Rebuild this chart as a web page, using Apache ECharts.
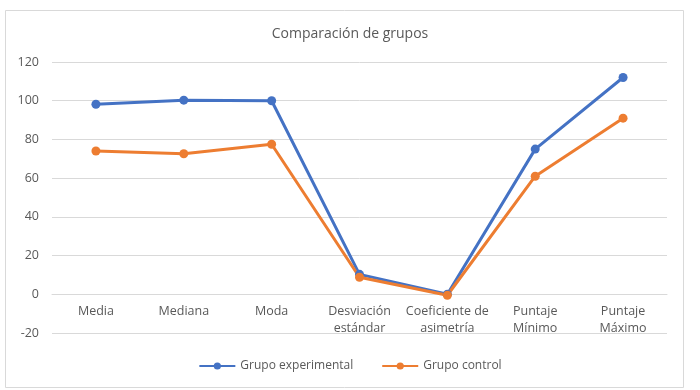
<!DOCTYPE html>
<html><head><meta charset="utf-8">
<script src="https://cdn.jsdelivr.net/npm/echarts@6/dist/echarts.min.js"></script>
<style>html,body{margin:0;padding:0;background:#fff}#c{width:700px;height:390px}</style>
</head><body><div id="c"></div>
<script>
const categories = ['Media','Mediana','Moda','Desviación\nestándar','Coeficiente de\nasimetría','Puntaje\nMínimo','Puntaje\nMáximo'];
const experimental = [98.2, 100.3, 100, 10.3, 0, 75, 112];
const control = [74, 72.6, 77.5, 8.8, -0.5, 61, 91];
const yTicks = {min: -20, max: 120, interval: 20};

const gridTop = 62, gridBottom = 57, H = 390;
const plotH = H - gridTop - gridBottom;
const zeroOffset = -plotH * (0 - yTicks.min) / (yTicks.max - yTicks.min);

const chart = echarts.init(document.getElementById('c'));
const font = '"Open Sans", "Noto Sans", sans-serif';
chart.setOption({
  backgroundColor: '#fff',
  animation: false,
  graphic: [{type:'rect', shape:{x:5.5,y:10.5,width:678,height:377}, style:{fill:'none', stroke:'#d9d9d9', lineWidth:1}}],
  title: {text:'Comparación de grupos', left:'center', top:22, textStyle:{fontFamily:font, fontSize:14, fontWeight:'normal', color:'#595959'}},
  legend: {bottom:13, itemGap:28, itemWidth:36, itemHeight:9, textStyle:{fontFamily:font, fontSize:12, color:'#595959'}, data:['Grupo experimental','Grupo control']},
  grid: {left:52, right:33, top:gridTop, bottom:gridBottom},
  xAxis: {type:'category', data:categories, boundaryGap:true, offset: zeroOffset,
    axisLine:{onZero:false, lineStyle:{color:'#d9d9d9'}}, axisTick:{show:false},
    axisLabel:{color:'#595959', fontFamily:font, fontSize:12.5, margin:9, interval:0, lineHeight:17}},
  yAxis: {type:'value', min:yTicks.min, max:yTicks.max, interval:yTicks.interval,
    axisLine:{show:false}, axisTick:{show:false},
    axisLabel:{color:'#595959', fontFamily:font, fontSize:12.5, margin:13},
    splitLine:{lineStyle:{color:'#d9d9d9'}}},
  series: [
    {name:'Grupo experimental', type:'line', data:experimental, symbol:'circle', symbolSize:9,
     lineStyle:{width:3, color:'#4472c4'}, itemStyle:{color:'#4472c4'}},
    {name:'Grupo control', type:'line', data:control, symbol:'circle', symbolSize:9,
     lineStyle:{width:3, color:'#ed7d31'}, itemStyle:{color:'#ed7d31'}}
  ]
});
</script></body></html>
